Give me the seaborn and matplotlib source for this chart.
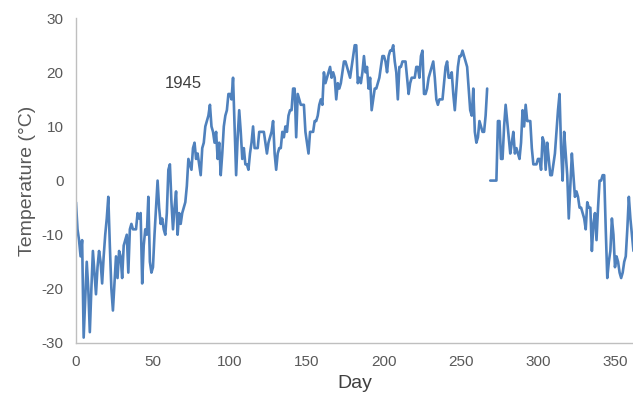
import numpy as np
import pandas as pd
import matplotlib
matplotlib.use("Agg")
import matplotlib.pyplot as plt
import seaborn as sns

# daily mean temperature, 1945 (day 268 missing, 269-273 logged as 0)
temps_early = [
    -4, -9, -11, -14, -11, -29, -22, -15, -20, -28,
    -20, -13, -17, -21, -16, -13, -15, -19, -14, -10,
    -7, -3, -12, -20, -24, -19, -14, -18, -13, -14,
    -18, -12, -11, -10, -17, -9, -8, -9, -9, -9,
    -6, -7, -6, -19, -12, -9, -10, -3, -15, -17,
    -16, -10, -5, 0, -5, -8, -7, -9, -10, -6,
    2, 3, -4, -9, -5, -2, -10, -6, -8, -6,
    -5, -4, -1, 4, 3, 2, 6, 7, 4, 5,
    3, 1, 6, 7, 10, 11, 12, 14, 10, 9,
    7, 9, 4, 7, 1, 5, 10, 12, 13, 16,
    16, 15, 19, 10, 1, 8, 13, 9, 4, 6,
    3, 3, 2, 5, 7, 10, 6, 6, 6, 9,
    9, 9, 9, 7, 5, 7, 8, 9, 11, 5,
    2, 5, 6, 6, 9, 8, 10, 9, 12, 13,
    13, 17, 17, 8, 16, 15, 14, 14, 14, 9,
    7, 5, 9, 9, 9, 11, 11, 12, 14, 15,
    14, 20, 18, 19, 20, 21, 19, 20, 19, 15,
    18, 17, 18, 20, 22, 22, 21, 20, 19, 21,
    23, 25, 25, 18, 19, 18, 20, 23, 20, 21,
    17, 19, 13, 15, 17, 17, 18, 19, 21, 23,
    23, 22, 20, 23, 24, 24, 25, 22, 20, 15,
    21, 21, 22, 22, 22, 19, 16, 18, 19, 19,
    19, 21, 21, 19, 23, 24, 16, 16, 17, 19,
    20, 21, 22, 19, 15, 14, 15, 15, 15, 18,
    21, 22, 19, 19, 20, 16, 13, 17, 21, 23,
    23, 24, 23, 22, 21, 17, 13, 12, 17, 9,
    7, 8, 11, 10, 9, 9, 12, 17,
]
temps_late = [
    0, 0, 0, 0, 0, 11, 11, 4, 4, 10,
    14, 11, 8, 5, 7, 9, 5, 6, 5, 4,
    7, 13, 10, 14, 11, 11, 11, 6, 3, 3,
    3, 4, 4, 2, 8, 7, 2, 7, 4, 1,
    1, 3, 5, 9, 13, 16, 6, 0, 9, 5,
    1, -7, -1, 5, 1, -3, -2, -3, -5, -5,
    -6, -7, -9, -4, -5, -5, -13, -8, -6, -11,
    -5, 0, 0, 1, 1, -9, -18, -15, -13, -7,
    -10, -16, -14, -15, -17, -18, -17, -15, -14, -9,
    -3, -7, -10, -13,
]
late_start = 269

df = pd.DataFrame({
    "day": list(range(len(temps_early))) + list(range(late_start, late_start + len(temps_late))),
    "temp": temps_early + temps_late,
    "seg": [0] * len(temps_early) + [1] * len(temps_late),
})

sns.set_style("white")
plt.rcParams["font.family"] = ["Liberation Sans", "DejaVu Sans"]
plt.rcParams["axes.unicode_minus"] = False

fig = plt.figure(figsize=(6.33, 4.04), dpi=100)
ax = fig.add_axes([0.12, 0.151, 0.88, 0.804])

sns.lineplot(data=df, x="day", y="temp", units="seg", estimator=None,
             color="#4f81bd", linewidth=1.9, ax=ax)

ax.set_xlim(0, 361.7)
ax.set_ylim(-30, 30)
ax.set_xticks(range(0, 351, 50))
ax.set_yticks(range(-30, 31, 10))
ax.tick_params(length=0, labelsize=11, labelcolor="#595959", pad=9)
ax.set_xlabel("Day", fontsize=14, color="#404040")
ax.set_ylabel("Temperature (°C)", fontsize=14, color="#595959")

for side in ["top", "right"]:
    ax.spines[side].set_visible(False)
for side in ["left", "bottom"]:
    ax.spines[side].set_color("#bfbfbf")
    ax.spines[side].set_linewidth(1)

ax.text(70, 18, "1945", fontsize=12, color="#404040", ha="center", va="center")

fig.savefig("out.png", dpi=100)
